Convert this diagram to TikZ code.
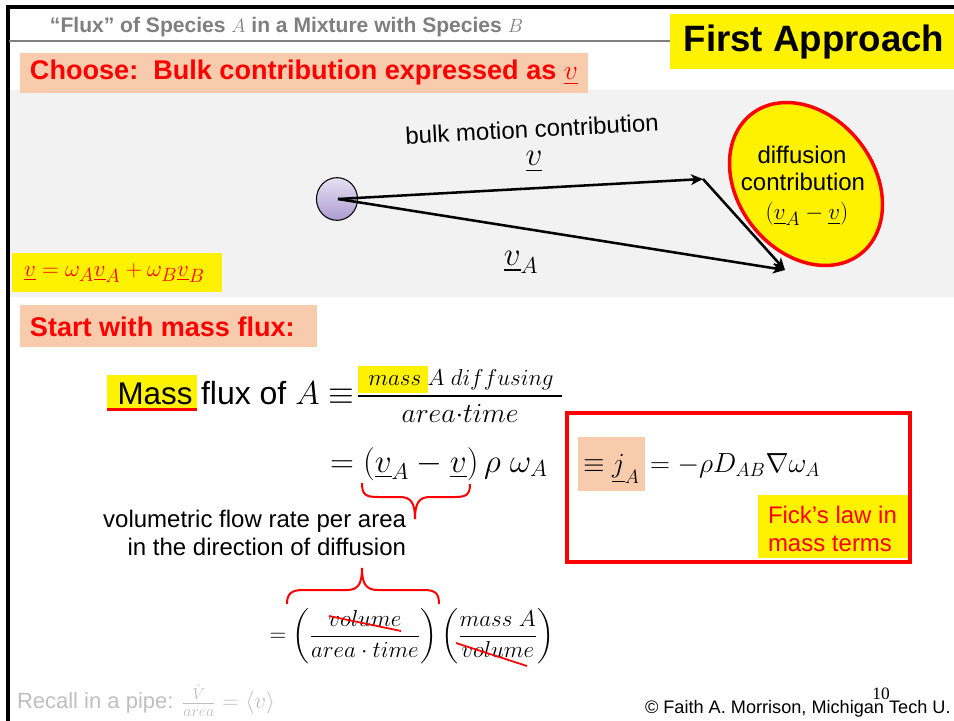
\documentclass[tikz,border=0pt]{standalone}
\usepackage{amsmath}
\usepackage{fontspec}
\setmainfont{Liberation Sans}
\newfontfamily\tnr{Liberation Serif}
\usetikzlibrary{arrows.meta}
\definecolor{peach}{HTML}{F8CBAD}
\definecolor{bggray}{HTML}{F2F2F2}
\definecolor{hgray}{HTML}{7F7F7F}
\definecolor{lgray}{HTML}{BFBFBF}
\definecolor{lavtop}{HTML}{E6E0F2}
\definecolor{lavbot}{HTML}{AE9CD2}
\newcommand{\ulv}{\underline{v}}
\newcommand{\fsz}[1]{\fontsize{#1}{#1}\selectfont}
\begin{document}
\begin{tikzpicture}[x=0.75pt,y=-0.75pt,
  every node/.style={inner sep=0pt,outer sep=0pt},
  vecarrow/.style={line width=1.9pt,-{Stealth[length=9pt,width=8pt,inset=2.5pt]}},
  redbold/.style={text=red,font=\fsz{20.3}\bfseries},
  bodytext/.style={font=\fsz{18}},
  brace/.style={red,line width=1.5pt},
  strike/.style={red,line width=1.3pt}]
\useasboundingbox (0,0) rectangle (954,721);
\fill[white] (0,0) rectangle (954,721);
% frame
\draw[line width=2.3pt] (8,721) -- (8,7) -- (954,7);
\draw[hgray,line width=1.2pt] (9,41) -- (670,41);
% header
\node[anchor=west,text=hgray,font=\fsz{15.8}\bfseries] (hdr) at (50,27) {“Flux” of Species $A$ in a Mixture with Species $B$};
% First approach
\fill[yellow] (670,14) rectangle (954,69);
\node[font=\fsz{27.5}\bfseries] (first) at (814,42) {First Approach};
% gray region
\fill[bggray] (10,90) rectangle (954,297);
% choose box
\fill[peach] (20,53) rectangle (588,93);
\node[redbold,anchor=west] (choose) at (30,73) {Choose:\ \ Bulk contribution expressed as $\ulv$};
% particle
\shade[top color=lavtop,bottom color=lavbot] (337,199) ellipse [x radius=15.4pt,y radius=16pt];
\draw[line width=0.8pt] (337,199) ellipse [x radius=15.4pt,y radius=16pt];
\coordinate (p) at (338,199);
\coordinate (vt) at (703,179);
\coordinate (vat) at (785,270);
\draw[vecarrow] (p) -- (vt);
\draw[vecarrow] (p) -- (vat);
\draw[vecarrow] (vt) -- (vat);
\node[bodytext,rotate=3] (bulk) at (532,129) {bulk motion contribution};
\node[font=\fsz{24}] (vlab) at (534,162) {$\ulv$};
\node[font=\fsz{24}] (valab) at (521,262) {$\ulv_A$};
% diffusion ellipse
\draw[red,line width=2.6pt,fill=yellow,rotate around={38:(806,184)}] (806,184) ellipse [x radius=51pt,y radius=66.5pt];
\node[bodytext] (d1) at (802,155) {diffusion};
\node[bodytext] (d2) at (803,182) {contribution};
\node[font=\fsz{19}] (d3) at (807,214) {$(\ulv_A-\ulv)$};
% mixture velocity
\fill[yellow] (12,253) rectangle (222,292);
\node[text=red,font=\fsz{19},anchor=west] (mixv) at (24,273) {$\ulv=\omega_A\ulv_A+\omega_B\ulv_B$};
% start box
\fill[peach] (20,305) rectangle (317,347);
\node[redbold,anchor=west] (start) at (30,327) {Start with mass flux:};
% mass flux definition
\fill[yellow] (107,375) rectangle (197,408);
\draw[red,line width=1.6pt] (107,409.5) -- (197,409.5);
\node[font=\fsz{23.5},anchor=base] (mass) at (155,404) {Mass};
\node[font=\fsz{24},anchor=base west] (fluxof) at (201,404) {flux of $A\equiv$};
\fill[yellow] (358,366) rectangle (428,393);
\node[font=\fsz{18.5}] (num) at (461,380) {$mass\;A\;diffusing$};
\draw[line width=1.4pt] (358,396) -- (562,396);
\node[font=\fsz{22}] (den) at (460,413) {$area{\cdot}time$};
\node[font=\fsz{23},anchor=base west] (eq2) at (330,472) {$=(\ulv_A-\ulv)\,\rho\;\omega_A$};
% brace under (vA - v)
\draw[brace] (362,483) .. controls (362,495) and (366,497) .. (378,497) -- (400,497)
  .. controls (411,497) and (415,503) .. (415,519)
  .. controls (415,503) and (419,497) .. (430,497) -- (455,497)
  .. controls (467,497) and (470,494) .. (470,484);
\node[bodytext,anchor=base east] (vol1) at (406,527) {volumetric flow rate per area};
\node[bodytext,anchor=base east] (vol2) at (406,555) {in the direction of diffusion};
% overbrace
\draw[brace] (287,604) .. controls (287,594) and (291,590) .. (303,590) -- (347,590)
  .. controls (358,590) and (362,584) .. (362,568)
  .. controls (362,584) and (366,590) .. (378,590) -- (424,590)
  .. controls (436,590) and (439,594) .. (439,604);
\node[font=\fsz{17.5}] (eq3) at (412,636) {$=\left(\dfrac{volume}{area\cdot time}\right)\left(\dfrac{mass\ A}{volume}\right)$};
\draw[strike] (329,616) -- (401,631);
\draw[strike] (456,643) -- (527,666);
% Fick box
\draw[red,line width=2.3pt] (567,413) rectangle (910,562);
\fill[peach] (578,437) rectangle (645,491);
\node[font=\fsz{21},anchor=base west] (jA) at (583,472) {$\equiv\underline{j}_A$};
\node[font=\fsz{21},anchor=base west] (fick) at (650,472) {$=-\rho D_{AB}\nabla\omega_A$};
\fill[yellow] (758,495) rectangle (908,558);
\node[text=red,font=\fsz{18},align=left,anchor=west] (ficklab) at (768,529) {Fick’s law in\\[3pt]mass terms};
% footer
\node[text=lgray,font=\fsz{16.5},anchor=west] (recall) at (17,701) {Recall in a pipe: $\frac{\dot V}{area}=\langle v\rangle$};
\node[font=\fsz{13.6},anchor=base west] (copy) at (645,713) {© Faith A. Morrison, Michigan Tech U.};
\node[font=\tnr\fsz{13}] (pg) at (881,694) {10};
\end{tikzpicture}
\end{document}
